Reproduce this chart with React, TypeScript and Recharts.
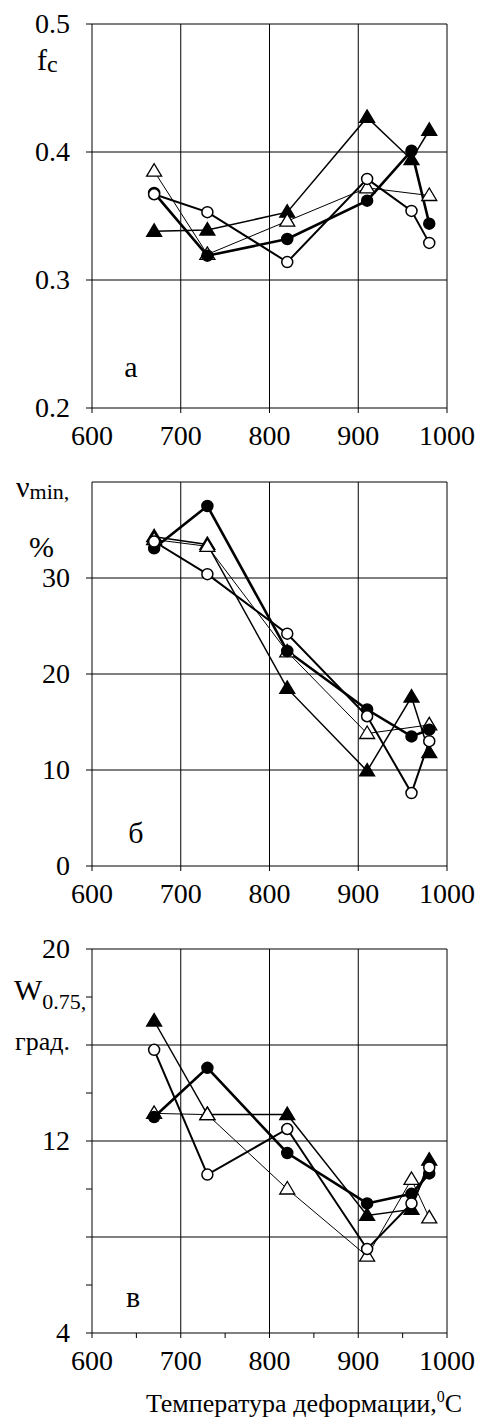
import React from "react";
import { LineChart, Line, XAxis, YAxis, CartesianGrid } from "recharts";

// deformation temperatures, °C
const temps = [670, 730, 820, 910, 960, 980];

// panel а: f_c
const fcSolidCircle = [0.368, 0.319, 0.332, 0.362, 0.401, 0.344];
const fcOpenCircle = [0.367, 0.353, 0.314, 0.379, 0.354, 0.329];
const fcSolidTri = [0.338, 0.339, 0.353, 0.427, 0.394, 0.417];
const fcOpenTri = [0.385, 0.32, 0.346, 0.372, null, 0.366];

// panel б: ν_min, %
const nuSolidCircle = [33.1, 37.5, 22.4, 16.3, 13.5, 14.2];
const nuOpenCircle = [33.8, 30.4, 24.2, 15.6, 7.6, 13.0];
const nuSolidTri = [34.3, 33.5, 18.5, 9.9, 17.6, 11.8];
const nuOpenTri = [34.0, 33.3, 22.3, 13.8, null, 14.7];

// panel в: W_0.75, град.
const wSolidCircle = [13.0, 15.05, 11.5, 9.4, 9.8, 10.65];
const wOpenCircle = [15.8, 10.6, 12.5, 7.5, 9.4, 10.9];
const wSolidTri = [17.0, 13.1, 13.1, 8.9, 9.15, 11.2];
const wOpenTri = [13.15, 13.1, 10.0, 7.2, 10.4, 8.8];

const xTicks = [600, 700, 800, 900, 1000];
const xTicksMinor = [600, 650, 700, 750, 800, 850, 900, 950, 1000];
const fcTicks = [0.2, 0.3, 0.4, 0.5];
const nuTicks = [0, 10, 20, 30];
const wTicks = [4, 6, 8, 10, 12, 14, 16, 18, 20];
const wLabeled = [4, 12, 20];

const FONT = "'Liberation Serif'";

const build = (sc: any[], oc: any[], st: any[], ot: any[]) =>
  temps.map((t, i) => ({ t, sc: sc[i], oc: oc[i], st: st[i], ot: ot[i] }));

const triangle = (filled: boolean) => (props: any) => {
  const { cx, cy, index } = props;
  if (cx == null || cy == null || props.value == null) return <g key={"t" + index} />;
  return (
    <polygon
      key={"t" + index}
      points={`${cx},${cy - 7.5} ${cx - 7.5},${cy + 5} ${cx + 7.5},${cy + 5}`}
      fill={filled ? "#000" : "#fff"}
      stroke="#000"
      strokeWidth={1.3}
    />
  );
};

const circle = (filled: boolean) => (props: any) => {
  const { cx, cy, index } = props;
  if (cx == null || cy == null || props.value == null) return <g key={"c" + index} />;
  return (
    <circle key={"c" + index} cx={cx} cy={cy} r={5.5} fill={filled ? "#000" : "#fff"} stroke="#000" strokeWidth={1.5} />
  );
};

const XTick = (props: any) => {
  const { x, y, payload } = props;
  const v = payload.value;
  if (v % 100 !== 0) return <g />;
  return (
    <text x={x} y={y + 22} textAnchor="middle" fontFamily={FONT} fontSize={28} fill="#000">
      {v}
    </text>
  );
};

const makeYTick = (fmt: (v: number) => string) => (props: any) => {
  const { x, y, payload } = props;
  const s = fmt(payload.value);
  if (!s) return <g />;
  return (
    <text x={x} y={y + 9} textAnchor="end" fontFamily={FONT} fontSize={28} fill="#000">
      {s}
    </text>
  );
};

const Panel = ({ data, domain, yTicks, yFormat, gridY, xt, top, height, xHeight, texts }: any) => (
  <div style={{ position: "absolute", left: 0, top }}>
    <LineChart width={479} height={height} data={data} margin={{ top: 24, right: 32, left: 0, bottom: 0 }}>
      <CartesianGrid stroke="#000" strokeWidth={1} horizontalValues={gridY} verticalValues={[700, 800, 900, 1000]} />
      <XAxis
        dataKey="t"
        type="number"
        domain={[600, 1000]}
        ticks={xt}
        interval={0}
        stroke="#000"
        tickSize={5}
        tickMargin={10}
        height={xHeight}
        tick={<XTick />}
        label={texts}
      />
      <YAxis
        type="number"
        domain={domain}
        ticks={yTicks}
        interval={0}
        width={92}
        stroke="#000"
        tickSize={6}
        tickMargin={16}
        tick={makeYTick(yFormat)}
      />
      <Line dataKey="st" stroke="#000" strokeWidth={1.5} dot={triangle(true)} isAnimationActive={false} connectNulls />
      <Line dataKey="ot" stroke="#000" strokeWidth={1} dot={triangle(false)} isAnimationActive={false} connectNulls />
      <Line dataKey="sc" stroke="#000" strokeWidth={2.6} dot={circle(true)} isAnimationActive={false} connectNulls />
      <Line dataKey="oc" stroke="#000" strokeWidth={2} dot={circle(false)} isAnimationActive={false} connectNulls />
    </LineChart>
  </div>
);

const TextA = () => (
  <g fill="#000">
    <text x={37} y={70} fontSize={30} fontFamily={FONT}>
      f<tspan fontSize={24} dy={2}>c</tspan>
    </text>
    <text x={131} y={377} fontSize={30} textAnchor="middle" fontFamily={FONT}>а</text>
  </g>
);

const TextB = () => (
  <g fill="#000">
    <text x={16} y={39} fontSize={30} fontFamily={FONT}>
      ν<tspan fontSize={22} dy={2}>min,</tspan>
    </text>
    <text x={29} y={99} fontSize={30} fontFamily={FONT}>%</text>
    <text x={136} y={385} fontSize={30} textAnchor="middle" fontFamily={FONT}>б</text>
  </g>
);

const TextC = () => (
  <g fill="#000">
    <text x={14} y={75} fontSize={30} fontFamily={FONT}>
      W<tspan fontSize={22} dy={9}>0.75,</tspan>
    </text>
    <text x={15} y={125} fontSize={26} fontFamily={FONT}>град.</text>
    <text x={133} y={382} fontSize={30} textAnchor="middle" fontFamily={FONT}>в</text>
    <text x={304} y={487} fontSize={26} textAnchor="middle" fontFamily={FONT}>
      Температура деформации,<tspan fontSize={16} dy={-10}>0</tspan>
      <tspan dy={10}>С</tspan>
    </text>
  </g>
);

export default function App() {
  return (
    <div style={{ position: "absolute", left: 0, top: 0, width: 479, height: 1421, background: "#fff" }}>
      <Panel
        data={build(fcSolidCircle, fcOpenCircle, fcSolidTri, fcOpenTri)}
        domain={[0.2, 0.5]}
        yTicks={fcTicks}
        yFormat={(v: number) => v.toFixed(1)}
        gridY={[0.3, 0.4, 0.5]}
        xt={xTicks}
        top={0}
        height={450}
        xHeight={42}
        texts={<TextA />}
      />
      <Panel
        data={build(nuSolidCircle, nuOpenCircle, nuSolidTri, nuOpenTri)}
        domain={[0, 40]}
        yTicks={nuTicks}
        yFormat={(v: number) => String(v)}
        gridY={[10, 20, 30, 40]}
        xt={xTicks}
        top={458}
        height={450}
        xHeight={42}
        texts={<TextB />}
      />
      <Panel
        data={build(wSolidCircle, wOpenCircle, wSolidTri, wOpenTri)}
        domain={[4, 20]}
        yTicks={wTicks}
        yFormat={(v: number) => (wLabeled.includes(v) ? String(v) : "")}
        gridY={[8, 12, 16, 20]}
        xt={xTicksMinor}
        top={925}
        height={496}
        xHeight={88}
        texts={<TextC />}
      />
    </div>
  );
}
